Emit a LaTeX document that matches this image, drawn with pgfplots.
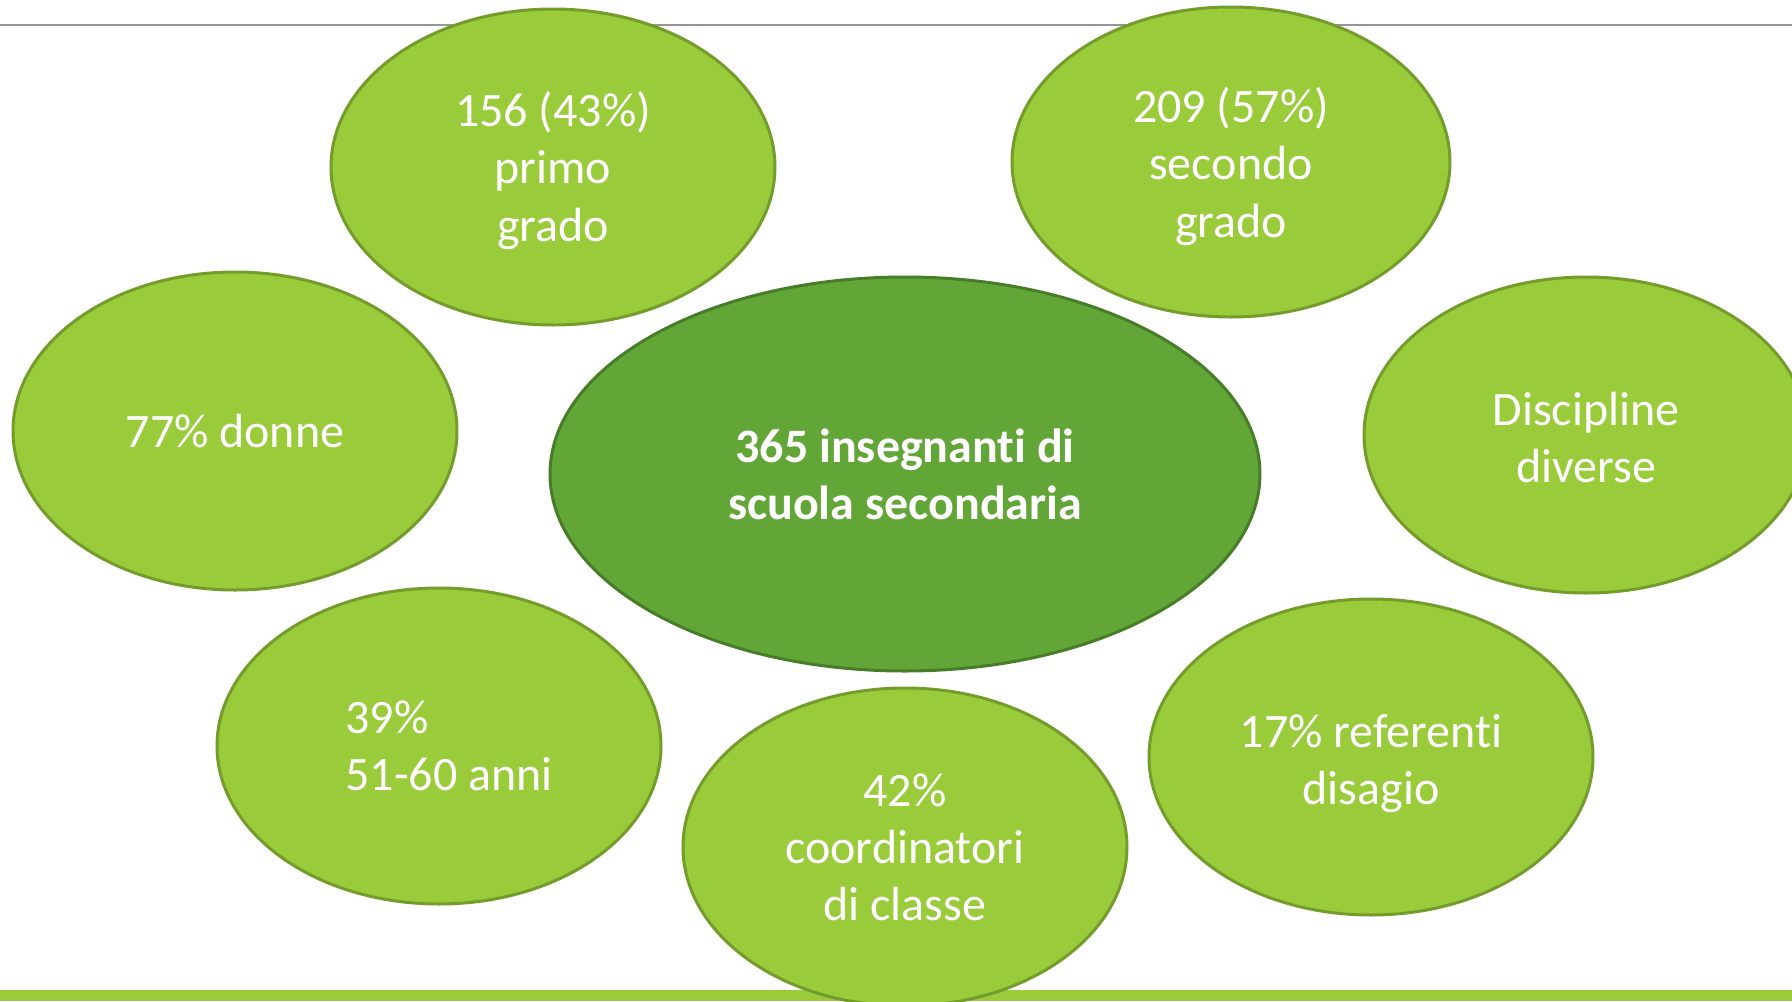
\documentclass[border=0pt]{standalone}
\usepackage{pgfplots}
\pgfplotsset{compat=1.18}
\usepackage{fontspec}
\setmainfont{Carlito}[Ligatures=NoCommon]
\definecolor{leaf}{RGB}{154,203,59}
\definecolor{leafedge}{RGB}{116,156,42}
\definecolor{core}{RGB}{99,166,56}
\definecolor{coreedge}{RGB}{72,125,40}
\definecolor{rule}{RGB}{150,150,150}
% break the Carlito "ti" ligature
\newcommand{\ti}{t\kern0pt i}

% one bubble = one point; radii in pixels of the 1792x1001 frame (1 px = 0.25pt)
\pgfplotsset{
  bubble/.style 2 args={only marks, mark=*, mark size=#2*0.25pt,
    mark options={xscale=#1/#2, fill=leaf, draw=leafedge, line width=0.75pt},
    nodes near coords align=center},
  every node near coord/.style={anchor=center, align=center, text=white,
    font=\fontsize{12}{14.3}\selectfont},
}

\begin{document}
\begin{tikzpicture}
\begin{axis}[x=0.25pt, y=0.25pt, xmin=0, xmax=1792, ymin=0, ymax=1001,
  hide axis, clip marker paths=true]
% header rule and footer band
\addplot[rule, line width=0.5pt] coordinates {(0,976) (1792,976)};
\addplot[fill=leaf, draw=none] coordinates {(0,0) (1792,0) (1792,11) (0,11)} -- cycle;

\addplot[bubble={222}{158}, nodes near coords={156 (43\%)\\primo\\grado},
  every node near coord/.append style={yshift=-0.85pt}]
  coordinates {(553,834)};
\addplot[bubble={219}{155}, nodes near coords={209 (57\%)\\secondo\\grado},
  every node near coord/.append style={yshift=-1.1pt}]
  coordinates {(1231,839)};
\addplot[bubble={222}{159}, nodes near coords={77\% donne}]
  coordinates {(235,570)};
\addplot[bubble={222}{158}, nodes near coords={Discipline\\diverse},
  every node near coord/.append style={yshift=-0.55pt}]
  coordinates {(1586,566)};
\addplot[bubble={222}{158}, nodes near coords={39\%\\51-60 anni},
  every node near coord/.append style={align=left, xshift=2.5pt}]
  coordinates {(439,255)};
\addplot[bubble={222}{159}, nodes near coords={42\%\\coordinatori\\di classe}]
  coordinates {(905,154)};
\addplot[bubble={222}{158}, nodes near coords={17\% referen\ti\\disagio},
  every node near coord/.append style={yshift=-1.6pt}]
  coordinates {(1371,244)};
\addplot[bubble={355}{197},
  mark options={xscale=355/197, fill=core, draw=coreedge, line width=0.75pt},
  nodes near coords={\bfseries 365 insegnan\ti{} di\\\bfseries scuola secondaria}]
  coordinates {(905,527)};
\end{axis}
\pgfresetboundingbox
\path[use as bounding box] (0,0) rectangle (448pt,250.25pt);
\end{tikzpicture}
\end{document}
